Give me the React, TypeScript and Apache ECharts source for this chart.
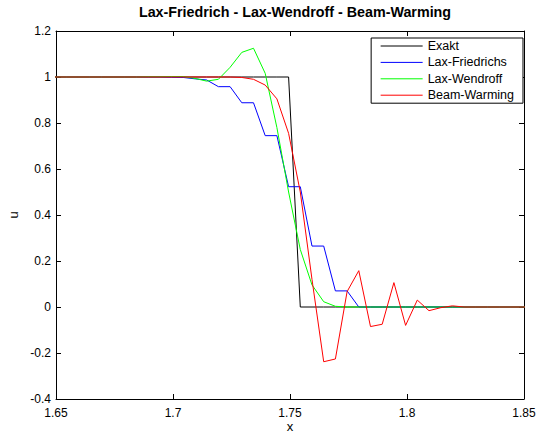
import React, { useEffect, useRef } from "react";
import * as echarts from "echarts";

const xs = [
  1.6494, 1.6544, 1.6594, 1.6644, 1.6694, 1.6744, 1.6794, 1.6844, 1.6894, 1.6944,
  1.6994, 1.7044, 1.7094, 1.7144, 1.7194, 1.7244, 1.7294, 1.7344, 1.7394, 1.7444,
  1.7494, 1.7544, 1.7594, 1.7644, 1.7694, 1.7744, 1.7794, 1.7844, 1.7894, 1.7944,
  1.7994, 1.8044, 1.8094, 1.8144, 1.8194, 1.8244, 1.8294, 1.8344, 1.8394, 1.8444,
  1.8494, 1.8544,
];

const exakt = [
  1, 1, 1, 1, 1, 1, 1, 1, 1, 1,
  1, 1, 1, 1, 1, 1, 1, 1, 1, 1,
  1, 0, 0, 0, 0, 0, 0, 0, 0, 0,
  0, 0, 0, 0, 0, 0, 0, 0, 0, 0,
  0, 0,
];

const laxFriedrichs = [
  1, 1, 1, 1, 1, 1, 1, 1, 1, 1,
  0.999, 0.998, 0.992, 0.987, 0.958, 0.958, 0.888, 0.888, 0.745, 0.745,
  0.523, 0.523, 0.265, 0.265, 0.07, 0.07, 0, 0, 0, 0,
  0, 0, 0, 0, 0, 0, 0, 0, 0, 0,
  0, 0,
];

const laxWendroff = [
  1, 1, 1, 1, 1, 1, 1, 1, 1.001, 1.001,
  1.002, 1.002, 0.994, 0.982, 0.99, 1.042, 1.107, 1.125, 1.016, 0.78,
  0.5, 0.25, 0.096, 0.023, 0.003, 0, 0, 0, 0, 0,
  0, 0, 0, 0, 0, 0, 0, 0, 0, 0,
  0, 0,
];

const beamWarming = [
  1, 1, 1, 1, 1, 1, 1, 1, 1, 1,
  1, 1, 1, 1, 1, 1, 0.998, 0.99, 0.965, 0.905,
  0.755, 0.5, 0.12, -0.238, -0.226, 0.067, 0.158, -0.085, -0.075, 0.106,
  -0.08, 0.03, -0.016, -0.003, 0.005, 0, 0, 0, 0, 0,
  0, 0,
];

const seriesNames = ["Exakt", "Lax-Friedrichs", "Lax-Wendroff", "Beam-Warming"];
const seriesColors = ["#000000", "#0000ff", "#00ff00", "#ff0000"];
const seriesValues = [exakt, laxFriedrichs, laxWendroff, beamWarming];

const FONT = "'Liberation Sans', Arial, Helvetica, sans-serif";

export default function App() {
  const ref = useRef<HTMLDivElement>(null);

  useEffect(() => {
    document.body.style.margin = "0";
    if (!ref.current) return;
    const chart = echarts.init(ref.current, null, { renderer: "svg" });

    const axisCommon = {
      axisLine: { show: true, onZero: false, lineStyle: { color: "#000", width: 1 } },
      axisTick: { show: true, inside: true, length: 5, lineStyle: { color: "#000" } },
      splitLine: { show: false },
    };

    const xBase = {
      ...axisCommon,
      type: "value",
      min: 1.65,
      max: 1.85,
      interval: 0.05,
    };
    const yBase = {
      ...axisCommon,
      type: "value",
      min: -0.4,
      max: 1.2,
      interval: 0.2,
    };

    chart.setOption({
      animation: false,
      backgroundColor: "#ffffff",
      textStyle: { fontFamily: FONT },
      title: {
        text: "Lax-Friedrich - Lax-Wendroff - Beam-Warming",
        left: 290,
        textAlign: "center",
        top: 0,
        textStyle: { fontFamily: FONT, fontSize: 14.3, fontWeight: "bold", color: "#000" },
      },
      legend: {
        orient: "vertical",
        right: 14,
        top: 38,
        data: seriesNames,
        itemWidth: 42,
        itemHeight: 14,
        itemGap: 2.4,
        padding: [1, 9, 1, 9],
        borderColor: "#000",
        borderWidth: 1,
        backgroundColor: "#fff",
        itemStyle: { opacity: 0 },
        lineStyle: { width: 1 },
        textStyle: { fontFamily: FONT, fontSize: 12.5, color: "#000", lineHeight: 14 },
      },
      grid: { left: 56, right: 13, top: 31, bottom: 34, outerBoundsMode: "none", containLabel: false },
      xAxis: [
        {
          ...xBase,
          position: "bottom",
          name: "x",
          nameLocation: "middle",
          nameGap: 21,
          nameMoveOverlap: false,
          nameTextStyle: { fontFamily: FONT, fontSize: 13, lineHeight: 12, color: "#000" },
          axisLabel: {
            color: "#000",
            fontFamily: FONT,
            fontSize: 12,
            lineHeight: 12,
            margin: 8,
          },
        },
        {
          ...xBase,
          position: "top",
          axisLabel: { show: false },
        },
      ],
      yAxis: [
        {
          ...yBase,
          position: "left",
          name: "u",
          nameLocation: "middle",
          nameGap: 36,
          nameMoveOverlap: false,
          nameTextStyle: { fontFamily: FONT, fontSize: 13, color: "#000" },
          axisLabel: {
            color: "#000",
            fontFamily: FONT,
            fontSize: 12,
            margin: 5,
          },
        },
        {
          ...yBase,
          position: "right",
          axisLabel: { show: false },
        },
      ],
      series: seriesNames.map((name, i) => ({
        name,
        type: "line",
        xAxisIndex: 0,
        yAxisIndex: 0,
        symbol: "none",
        showSymbol: false,
        clip: true,
        color: seriesColors[i],
        lineStyle: { color: seriesColors[i], width: 1 },
        data: xs.map((x, j) => [x, seriesValues[i][j]]),
      })),
    });

    return () => chart.dispose();
  }, []);

  return <div ref={ref} style={{ width: 537, height: 433 }} />;
}
